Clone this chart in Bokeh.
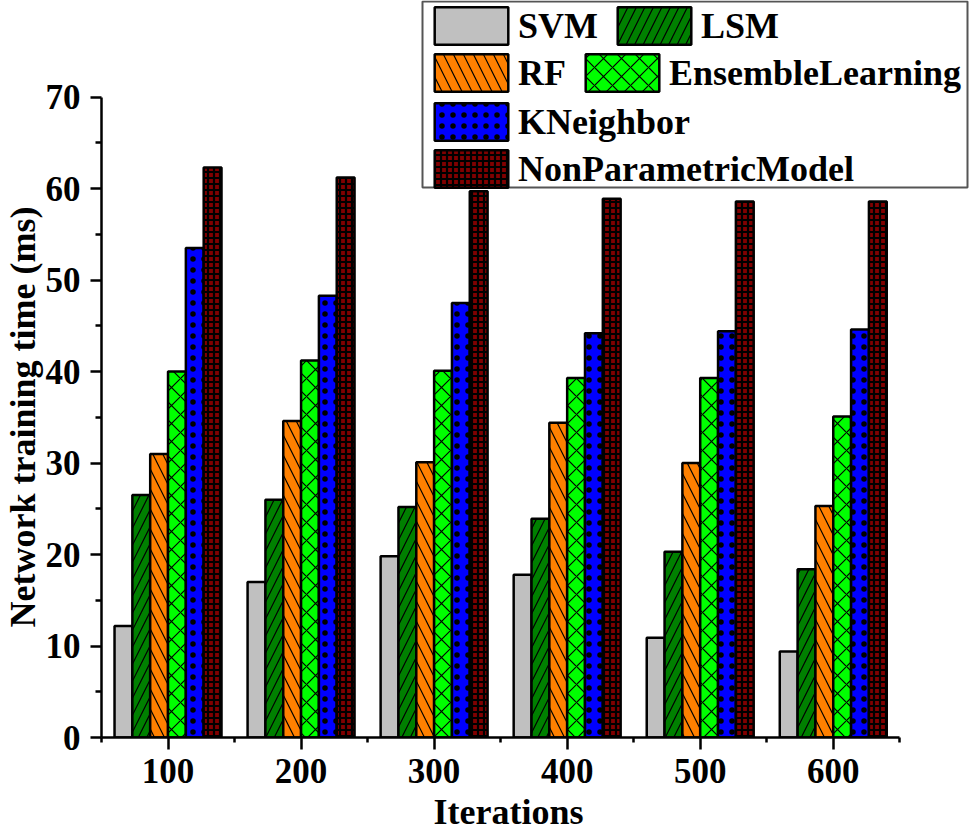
from bokeh.plotting import figure
from bokeh.models import (FixedTicker, Legend, LegendItem, BoxAnnotation,
                          Range1d, ColumnDataSource, Title)
from bokeh.transform import dodge
from bokeh.embed import file_html
from bokeh.resources import INLINE

# ---- data -------------------------------------------------------------
iterations = [100, 200, 300, 400, 500, 600]
svm = [12.2, 17.0, 19.8, 17.8, 10.9, 9.4]
lsm = [26.5, 26.0, 25.2, 23.9, 20.3, 18.4]
rf = [31.0, 34.6, 30.1, 34.4, 30.0, 25.3]
ensemble = [40.0, 41.2, 40.1, 39.3, 39.3, 35.1]
kneighbor = [53.5, 48.3, 47.5, 44.2, 44.4, 44.6]
nonparametric = [62.3, 61.2, 59.7, 58.9, 58.6, 58.6]

series_labels = ["SVM", "LSM", "RF", "EnsembleLearning", "KNeighbor",
                 "NonParametricModel"]
y_ticks = [0, 10, 20, 30, 40, 50, 60, 70]
y_minor_ticks = [5, 15, 25, 35, 45, 55, 65]
x_ticks = iterations
x_minor_ticks = [50, 150, 250, 350, 450, 550, 650]
x_label = "Iterations"
y_label = "Network training time (ms)"

# ---- styles -----------------------------------------------------------
FONT = "Liberation Serif"
colors = ["#C0C0C0", "#008000", "#FF8000", "#00FF00", "#0000FF", "#800000"]
hatches = [" ", "/", "\\", "x", ".", "+"]
hatch_scales = [12, 17, 20, 18, 11, 6]
hatch_weights = [1, 1.2, 1.2, 1.2, 1.0, 2.2]
bar_w = 13.4

source = ColumnDataSource(dict(iter=iterations, svm=svm, lsm=lsm, rf=rf,
                               ens=ensemble, kn=kneighbor, npm=nonparametric))
cols = ["svm", "lsm", "rf", "ens", "kn", "npm"]

p = figure(width=969, height=835, output_backend="svg", toolbar_location=None,
           x_range=Range1d(50, 702.4), y_range=Range1d(0, 80.56),
           min_border_left=98, min_border_right=0, min_border_top=0,
           min_border_bottom=95)
p.xgrid.visible = False
p.ygrid.visible = False
p.outline_line_color = None
p.background_fill_color = "white"
p.border_fill_color = "white"

renderers = []
for i, c in enumerate(cols):
    r = p.vbar(x=dodge("iter", (i - 2.5) * bar_w, range=p.x_range), top=c,
               width=bar_w, source=source, fill_color=colors[i],
               line_color="black", line_width=2.5,
               hatch_pattern=hatches[i], hatch_scale=hatch_scales[i],
               hatch_weight=hatch_weights[i], hatch_color="black")
    renderers.append(r)

for ax in (p.xaxis[0], p.yaxis[0]):
    ax.axis_line_width = 2.5
    ax.major_tick_line_width = 2.5
    ax.minor_tick_line_width = 2.5
    ax.major_tick_in = 0
    ax.minor_tick_in = 0
    ax.major_label_text_font = FONT
    ax.major_label_text_font_style = "bold"
    ax.major_label_text_font_size = "35px"
    ax.major_label_text_color = "black"

p.xaxis.ticker = FixedTicker(ticks=x_ticks, minor_ticks=x_minor_ticks)
p.yaxis.ticker = FixedTicker(ticks=y_ticks, minor_ticks=y_minor_ticks)
p.xaxis.bounds = (50, 650)
p.yaxis.bounds = (0, 70)
p.xaxis.major_tick_out = 12
p.xaxis.minor_tick_out = 5
p.yaxis.major_tick_out = 11
p.yaxis.minor_tick_out = 6
p.xaxis.major_label_standoff = 9
p.yaxis.major_label_standoff = 10

# axis titles (placed via side titles so they center on the axis bounds)
p.add_layout(Title(text=y_label, align="left", offset=110, standoff=0,
                   text_font=FONT, text_font_style="bold",
                   text_font_size="36px", text_color="black"), "left")
p.add_layout(Title(text=x_label, align="left", offset=332, standoff=8,
                   text_font=FONT, text_font_style="bold",
                   text_font_size="36px", text_color="black"), "below")

# ---- legend (boxed, four rows) ---------------------------------------
box = BoxAnnotation(left=422, right=967, top=1, bottom=187,
                    left_units="canvas", right_units="canvas",
                    top_units="canvas", bottom_units="canvas",
                    fill_color="white", fill_alpha=1.0,
                    line_color="#555555", line_width=2, line_alpha=1.0)
p.add_layout(box)

rows = [[0, 1], [2, 3], [4], [5]]
row_bottoms = [688, 641, 592, 545]
for row, yb in zip(rows, row_bottoms):
    leg = Legend(items=[LegendItem(label=series_labels[k], renderers=[renderers[k]])
                        for k in row],
                 orientation="horizontal", location=(324, yb),
                 glyph_width=92, glyph_height=47, label_standoff=1,
                 spacing=10, padding=0, margin=0,
                 border_line_alpha=0, background_fill_alpha=0,
                 label_text_font=FONT, label_text_font_style="bold",
                 label_text_font_size="36px", label_text_color="black",
                 label_height=38)
    p.add_layout(leg)

open("out.html", "w").write(file_html(p, INLINE))
